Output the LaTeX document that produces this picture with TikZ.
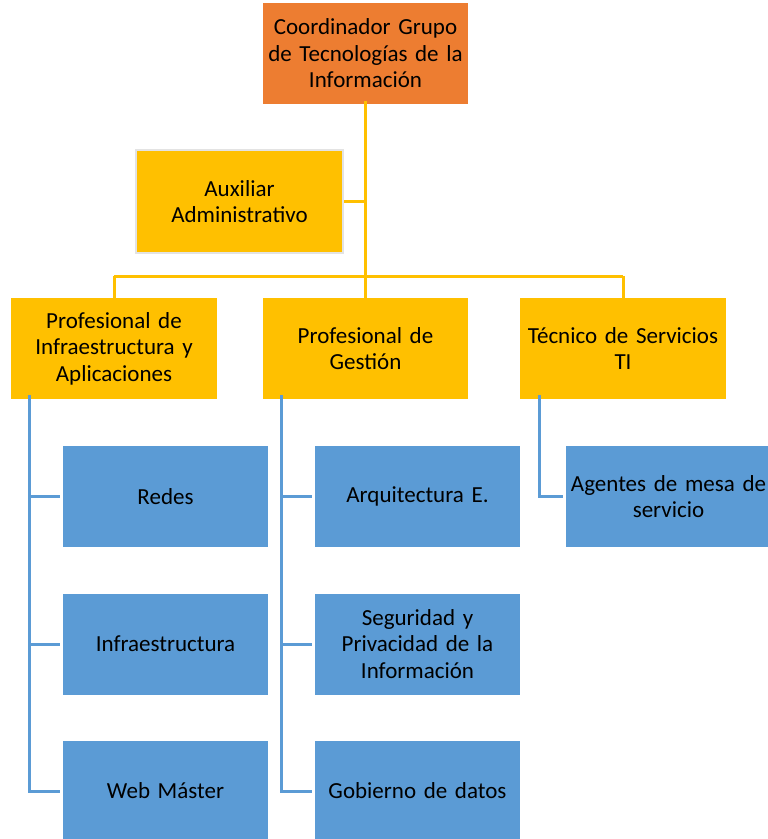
\documentclass[tikz,border=0pt]{standalone}
\usepackage{fontspec}
\setmainfont{Carlito}[WordSpace=0.7]
\definecolor{orangebox}{HTML}{ED7D31}
\definecolor{yellowbox}{HTML}{FFC000}
\definecolor{bluebox}{HTML}{5B9BD5}
\definecolor{auxborder}{HTML}{E3E3E3}
\begin{document}
\begin{tikzpicture}[x=1pt,y=-1pt,
  box/.style={rectangle, inner sep=0pt, minimum width=205pt, minimum height=101pt,
    text width=204pt, align=center, font=\fontsize{23}{26.5}\selectfont, text=black},
  orbox/.style={box, fill=orangebox},
  yebox/.style={box, fill=yellowbox},
  blbox/.style={box, fill=bluebox},
  yline/.style={draw=yellowbox, line width=3pt},
  bline/.style={draw=bluebox, line width=3pt}]
\useasboundingbox (0,0) rectangle (768,839);
\clip (0,0) rectangle (768,839);

\node[orbox] (top) at (365.5,53.5) {Coordinador Grupo\\de Tecnologías de la\\Información};
\node[yebox, minimum width=207pt, minimum height=103pt, draw=auxborder, line width=2pt] (aux) at (239.5,201.5) {Auxiliar\\Administrativo};

\node[yebox, minimum width=206pt] (pi) at (114,348.5) {Profesional de\\Infraestructura y\\Aplicaciones};
\node[yebox] (pg) at (365.5,348.5) {Profesional de\\Gestión};
\node[yebox, minimum width=206pt] (ts) at (623,348.5) {Técnico de Servicios\\TI};

\node[blbox] (redes) at (165.5,496.5) {Redes};
\node[blbox] (infra) at (165.5,644) {Infraestructura};
\node[blbox] (web) at (165.5,791) {Web Máster};

\node[blbox] (arq) at (417.5,496.5) {Arquitectura E.};
\node[blbox] (seg) at (417.5,644) {Seguridad y\\Privacidad de la\\Información};
\node[blbox] (gob) at (417.5,791) {Gobierno de datos};

\node[blbox] (age) at (668.5,496.5) {Agentes de mesa de\\servicio};

% yellow connectors
\coordinate (bus) at (366,276);
\draw[yline] ([yshift=3pt]top.south) -- ([yshift=-2pt]pg.north);
\draw[yline] (aux.east) -- (aux.east -| top.south);
\draw[yline] (bus -| pi.north) -- (bus -| ts.north);
\draw[yline] (bus -| pi.north) -- ([yshift=-2pt]pi.north);
\draw[yline] (bus -| ts.north) -- ([yshift=-2pt]ts.north);

% blue connectors
\coordinate (lpi) at ([xshift=19pt,yshift=4pt]pi.south west);
\coordinate (lpg) at ([xshift=19pt,yshift=4pt]pg.south west);
\coordinate (lts) at ([xshift=20pt,yshift=4pt]ts.south west);
\draw[bline] (lpi) -- (lpi |- web.west) -- ([xshift=-3pt]web.west);
\draw[bline] (lpi |- redes.west) -- ([xshift=-3pt]redes.west);
\draw[bline] (lpi |- infra.west) -- ([xshift=-3pt]infra.west);
\draw[bline] (lpg) -- (lpg |- gob.west) -- ([xshift=-3pt]gob.west);
\draw[bline] (lpg |- arq.west) -- ([xshift=-3pt]arq.west);
\draw[bline] (lpg |- seg.west) -- ([xshift=-3pt]seg.west);
\draw[bline] (lts) -- (lts |- age.west) -- ([xshift=-3pt]age.west);
\end{tikzpicture}
\end{document}
